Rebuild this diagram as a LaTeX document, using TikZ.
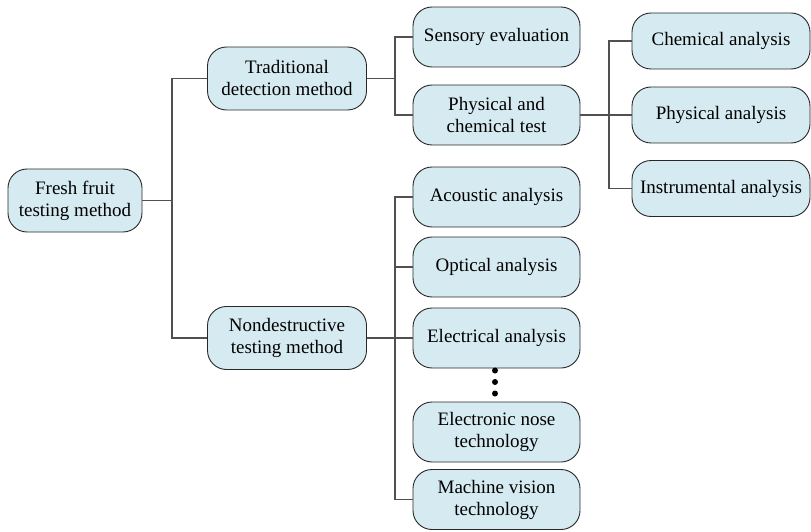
\documentclass[tikz,border=0pt]{standalone}
\usepackage{fontspec}
\setmainfont{Liberation Serif}
\definecolor{boxfill}{RGB}{214,235,241}
\definecolor{boxline}{RGB}{40,40,40}
\definecolor{connline}{RGB}{80,80,80}
\begin{document}
\begin{tikzpicture}[x=1pt,y=-1pt,
  box/.style={draw=boxline,line width=0.9pt,fill=boxfill,rounded corners=19pt,
    align=center,inner sep=0pt,font=\fontsize{19}{22}\selectfont},
  lvlA/.style={box,minimum width=134pt,minimum height=63pt},
  lvlB/.style={box,minimum width=159pt,minimum height=63pt},
  lvlC/.style={box,minimum width=167pt,minimum height=60pt},
  lvlD/.style={box,minimum width=178pt,minimum height=56pt},
  conn/.style={draw=connline,line width=1.1pt}]
\useasboundingbox (0,0) rectangle (811,532);
\node[lvlA] (fresh) at (75,200.5) {Fresh fruit\\testing method};
\node[lvlB] (trad) at (287,78.5) {Traditional\\detection method};
\node[lvlB] (nond) at (287,338) {Nondestructive\\testing method};
\node[lvlC] (sens) at (496.5,37) {Sensory evaluation};
\node[lvlC] (pc) at (496.5,115) {Physical and\\chemical test};
\node[lvlC] (acou) at (496.5,197) {Acoustic analysis};
\node[lvlC] (opt) at (496.5,267) {Optical analysis};
\node[lvlC] (elec) at (496.5,338) {Electrical analysis};
\node[lvlC] (enose) at (496.5,432) {Electronic nose\\technology};
\node[lvlC] (mv) at (496.5,499.5) {Machine vision\\technology};
\node[lvlD] (chem) at (721,41) {Chemical analysis};
\node[lvlD] (phys) at (721,115) {Physical analysis};
\node[lvlD] (inst) at (721,188.5) {Instrumental analysis};
\coordinate (ta) at (172,0);
\coordinate (tb) at (395,0);
\coordinate (td) at (609,0);
\draw[conn] (fresh.east) -- (fresh.east -| ta);
\draw[conn] (trad.west) -- (trad.west -| ta) |- (nond.west);
\draw[conn] (trad.east) -- (trad.east -| tb);
\draw[conn] (sens.west) -- (sens.west -| tb) |- (pc.west);
\draw[conn] (pc.east) -- (phys.west);
\draw[conn] (chem.west) -- (chem.west -| td) |- (inst.west);
\draw[conn] (acou.west) -- (acou.west -| tb) |- (mv.west);
\draw[conn] (opt.west) -- (opt.west -| tb);
\draw[conn] (nond.east) -- (elec.west);
\fill (495,370.5) circle (3pt);
\fill (495,382) circle (3pt);
\fill (495,393.5) circle (3pt);
\end{tikzpicture}
\end{document}
